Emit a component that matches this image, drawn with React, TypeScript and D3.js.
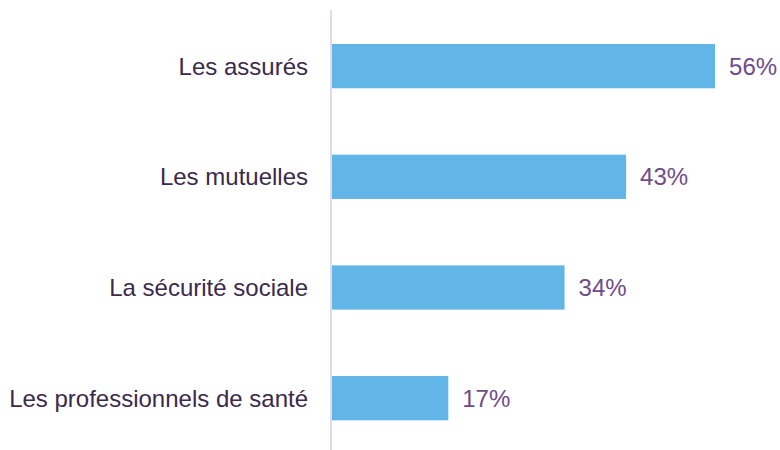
import React from 'react'
import * as d3 from 'd3'

const categories = [
  'Les assurés',
  'Les mutuelles',
  'La sécurité sociale',
  'Les professionnels de santé'
]
const values = [56, 43, 34, 17]

export default function App() {
  const width = 780
  const height = 450
  const axisX = 331

  const y = d3.scaleBand<string>()
    .domain(categories)
    .range([10.8, 453.5])
    .paddingInner(0.6)
    .paddingOuter(0.3)

  const x = d3.scaleLinear()
    .domain([0, 60])
    .range([axisX + 1, axisX + 1 + 60 * 6.84])

  const data = categories.map((c, i) => ({ label: c, value: values[i] }))

  return (
    <svg
      width={width}
      height={height}
      style={{ position: 'absolute', left: 0, top: 0, fontFamily: '"Liberation Sans", Arial, sans-serif' }}
    >
      <rect width={width} height={height} fill="#ffffff" />
      {data.map((d) => {
        const yy = y(d.label)!
        const bw = y.bandwidth()
        return (
          <g key={d.label}>
            <rect x={x(0)} y={yy} width={x(d.value) - x(0)} height={bw} fill="#62b6e7" />
            <text
              x={axisX - 23}
              y={yy + bw / 2}
              dy="0.35em"
              textAnchor="end"
              fontSize={24}
              fill="#3b2a4c"
            >
              {d.label}
            </text>
            <text
              x={x(d.value) + 14}
              y={yy + bw / 2}
              dy="0.35em"
              fontSize={24}
              fill="#6f4b8b"
            >
              {d.value}%
            </text>
          </g>
        )
      })}
      <line x1={axisX} x2={axisX} y1={10} y2={450} stroke="#e2d9ee" strokeWidth={2} />
    </svg>
  )
}
